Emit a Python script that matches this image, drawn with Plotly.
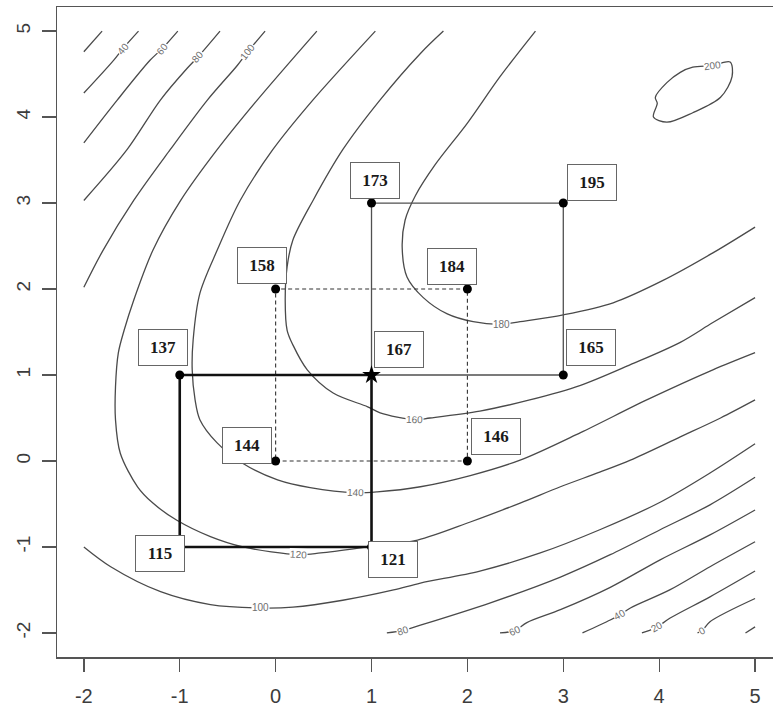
import plotly.graph_objects as go

# ---------------- data ----------------
# experimental runs (x1, x2) and observed responses
run_x = [-1, 1, -1, 1, 0, 2, 0, 2, 1, 3, 3]
run_y = [-1, -1, 1, 1, 0, 0, 2, 2, 3, 3, 1]
run_resp = [115, 121, 137, 167, 144, 146, 158, 184, 173, 195, 165]

# the three 2^2 designs, as indices into the runs (closed squares)
design_first = [0, 1, 3, 2, 0]
design_second = [4, 5, 7, 6, 4]
design_third = [3, 10, 9, 8, 3]
center_run = 3

# axis ticks
tick_vals = [-2, -1, 0, 1, 2, 3, 4, 5]
tick_text = ["-2", "-1", "0", "1", "2", "3", "4", "5"]

# traced contour lines of the fitted response surface
c20a_x = [-2.0, -1.81]
c20a_y = [4.76, 5.0]
c40a_x = [-2.0, -1.69, -1.59, -1.43]
c40a_y = [4.28, 4.66, 4.80, 5.0]
c60a_x = [-2.0, -1.65, -1.31, -1.18, -1.02]
c60a_y = [3.70, 4.20, 4.66, 4.80, 5.0]
c80a_x = [-2.0, -1.55, -1.20, -0.92, -0.81, -0.58]
c80a_y = [3.03, 3.62, 4.20, 4.57, 4.70, 5.0]
c100a_x = [-2.0, -1.80, -1.48, -1.10, -0.71, -0.40, -0.29, -0.11]
c100a_y = [2.02, 2.45, 3.03, 3.62, 4.20, 4.60, 4.76, 5.0]

c120_x = [0.43, -0.19, -0.61, -0.99, -1.28, -1.48, -1.58, -1.64, -1.67, -1.67, -1.62, -1.44,
          -1.28, -1.03, -0.68, -0.34, 0.24, 0.47, 0.96, 1.48, 2.03, 2.55, 2.97, 3.38, 3.70,
          4.22, 4.64, 5.0]
c120_y = [5.0, 4.20, 3.62, 3.03, 2.45, 1.87, 1.52, 1.26, 0.86, 0.48, 0.09, -0.30,
          -0.49, -0.69, -0.88, -1.0, -1.09, -1.07, -1.0, -0.92, -0.71, -0.49, -0.30, -0.13, 0.01,
          0.28, 0.50, 0.71]

c140_x = [1.04, 0.39, -0.03, -0.37, -0.61, -0.79, -0.86, -0.87, -0.84, -0.79, -0.61, -0.34,
          0.02, 0.36, 0.83, 1.06, 1.51, 2.03, 2.55, 3.18, 3.87, 4.56, 5.0]
c140_y = [5.0, 4.20, 3.62, 3.03, 2.45, 1.95, 1.41, 1.06, 0.71, 0.48, 0.21, -0.03,
          -0.22, -0.31, -0.37, -0.36, -0.30, -0.17, 0.01, 0.33, 0.71, 1.06, 1.26]

c160_x = [1.75, 1.51, 1.09, 0.70, 0.39, 0.18, 0.12, 0.10, 0.12, 0.18, 0.33, 0.60, 0.96,
          1.09, 1.45, 1.61, 2.13, 2.65, 3.18, 3.70, 4.22, 4.56, 5.0]
c160_y = [5.0, 4.74, 4.20, 3.62, 3.03, 2.57, 2.26, 1.87, 1.52, 1.35, 1.06, 0.79, 0.63,
          0.56, 0.48, 0.50, 0.58, 0.71, 0.88, 1.12, 1.38, 1.61, 1.90]

c180_x = [2.71, 2.34, 2.0, 1.66, 1.46, 1.35, 1.32, 1.37, 1.54, 1.79, 2.06, 2.36, 2.55,
          3.0, 3.52, 4.04, 4.56, 5.0]
c180_y = [5.0, 4.47, 3.93, 3.44, 3.09, 2.80, 2.48, 2.14, 1.90, 1.71, 1.62, 1.59, 1.62,
          1.70, 1.84, 2.10, 2.42, 2.72]

c200_x = [4.35, 4.56, 4.74, 4.76, 4.64, 4.35, 4.08, 3.94, 3.98, 3.96, 4.08, 4.22, 4.35]
c200_y = [4.58, 4.60, 4.64, 4.47, 4.23, 4.05, 3.94, 4.0, 4.16, 4.23, 4.40, 4.52, 4.58]

c100b_x = [-2.0, -1.72, -1.20, -0.68, -0.16, 0.18, 0.70, 1.23, 1.51, 2.13, 2.76, 3.38,
           4.01, 4.53, 5.0]
c100b_y = [-1.0, -1.23, -1.52, -1.67, -1.71, -1.70, -1.62, -1.50, -1.42, -1.28, -1.07, -0.80,
           -0.48, -0.14, 0.20]
c80b_x = [1.16, 1.33, 1.51, 2.24, 2.97, 3.49, 4.01, 4.53, 5.0]
c80b_y = [-2.0, -1.97, -1.91, -1.65, -1.35, -1.09, -0.80, -0.51, -0.19]
c60b_x = [2.34, 2.50, 2.62, 2.97, 3.49, 4.01, 4.53, 5.0]
c60b_y = [-2.0, -1.97, -1.88, -1.73, -1.47, -1.15, -0.86, -0.57]
c40b_x = [3.20, 3.49, 3.59, 3.70, 4.11, 4.53, 5.0]
c40b_y = [-2.0, -1.85, -1.79, -1.71, -1.50, -1.23, -0.94]
c20b_x = [3.82, 3.90, 3.98, 4.11, 4.53, 5.0]
c20b_y = [-2.0, -1.97, -1.93, -1.83, -1.58, -1.28]
c0_x = [4.40, 4.45, 4.53, 5.0]
c0_y = [-2.0, -1.97, -1.87, -1.60]
cm20_x = [4.90, 5.0]
cm20_y = [-2.0, -1.93]

# ---------------- styling tables ----------------
# (level label, x list, y list, index of label point or None, label angle)
contour_table = [
    ("20", c20a_x, c20a_y, None, 0),
    ("40", c40a_x, c40a_y, 2, -50),
    ("60", c60a_x, c60a_y, 3, -50),
    ("80", c80a_x, c80a_y, 4, -48),
    ("100", c100a_x, c100a_y, 6, -52),
    ("120", c120_x, c120_y, 16, 3),
    ("140", c140_x, c140_y, 14, 2),
    ("160", c160_x, c160_y, 14, 2),
    ("180", c180_x, c180_y, 11, 0),
    ("200", c200_x, c200_y, 1, -8),
    ("100", c100b_x, c100b_y, 4, 0),
    ("80", c80b_x, c80b_y, 1, -18),
    ("60", c60b_x, c60b_y, 1, -24),
    ("40", c40b_x, c40b_y, 2, -30),
    ("20", c20b_x, c20b_y, 2, -30),
    ("0", c0_x, c0_y, 1, -30),
    ("-20", cm20_x, cm20_y, None, 0),
]

# pixel offsets of each response box relative to its run point
box_dx = [-20, 21, -17, 27, -29, 29, -14, -15, 3, 29, 28]
box_dy = [-7, -13, 27, 25, 15, 24, 24, 23, 23, 21, 27]

LINE_GREY = "#4a4a4a"

fig = go.Figure()

annotations = []
for lab, xs, ys, li, ang in contour_table:
    fig.add_trace(go.Scatter(
        x=xs, y=ys, mode="lines",
        line=dict(color=LINE_GREY, width=1.3, shape="spline", smoothing=0.9),
        hoverinfo="skip", showlegend=False))
    if li is not None:
        annotations.append(dict(
            x=xs[li], y=ys[li], xref="x", yref="y", text=lab, showarrow=False,
            textangle=ang, bgcolor="white", borderpad=0,
            font=dict(family="Liberation Sans, Arial, sans-serif", size=10, color="#6e6e6e")))


def path(idx):
    return [run_x[i] for i in idx], [run_y[i] for i in idx]


x1, y1 = path(design_first)
x2, y2 = path(design_second)
x3, y3 = path(design_third)

fig.add_trace(go.Scatter(x=x3, y=y3, mode="lines",
                         line=dict(color="#505050", width=1.3),
                         hoverinfo="skip", showlegend=False))
fig.add_trace(go.Scatter(x=x2, y=y2, mode="lines",
                         line=dict(color="#333333", width=1.1, dash="4px,3px"),
                         hoverinfo="skip", showlegend=False))
fig.add_trace(go.Scatter(x=x1, y=y1, mode="lines",
                         line=dict(color="#111111", width=2.6),
                         hoverinfo="skip", showlegend=False))

pt_x = [run_x[i] for i in range(len(run_x)) if i != center_run]
pt_y = [run_y[i] for i in range(len(run_y)) if i != center_run]
fig.add_trace(go.Scatter(x=pt_x, y=pt_y, mode="markers",
                         marker=dict(symbol="circle", size=9, color="#000000"),
                         hoverinfo="skip", showlegend=False))
fig.add_trace(go.Scatter(x=[run_x[center_run]], y=[run_y[center_run]], mode="markers",
                         marker=dict(symbol="star", size=14, color="#000000"),
                         hoverinfo="skip", showlegend=False))

for xv, yv, val, dx, dy in zip(run_x, run_y, run_resp, box_dx, box_dy):
    annotations.append(dict(
        x=xv, y=yv, xref="x", yref="y", text=f"<b>{val}</b>", showarrow=False,
        xshift=dx, yshift=dy, width=44, height=31, borderpad=2, borderwidth=1,
        bordercolor="#666666", bgcolor="white",
        font=dict(family="Liberation Serif, Times New Roman, serif", size=17, color="#1a1a1a")))

fig.update_layout(
    width=773, height=707,
    margin=dict(l=57, r=0, t=7, b=50, autoexpand=False),
    paper_bgcolor="white", plot_bgcolor="white",
    annotations=annotations,
    xaxis=dict(range=[-2.28, 5.187], tickvals=tick_vals, ticktext=tick_text,
               automargin=False,
               showgrid=False, zeroline=False, showline=True, mirror=True,
               linecolor="#555555", linewidth=1.5, ticks="outside", ticklen=13,
               tickcolor="#555555", tickwidth=1.3, ticklabelstandoff=7,
               tickfont=dict(family="Liberation Sans, Arial, sans-serif", size=20, color="#3c3c3c")),
    yaxis=dict(range=[-2.28, 5.28], tickvals=tick_vals, ticktext=tick_text,
               automargin=False,
               showgrid=False, zeroline=False, showline=True, mirror=False,
               linecolor="#555555", linewidth=1.5, ticks="outside", ticklen=14,
               tickcolor="#555555", tickwidth=1.3, tickangle=-90, ticklabelstandoff=4,
               tickfont=dict(family="Liberation Sans, Arial, sans-serif", size=19, color="#3c3c3c")),
)

fig.write_html("out.html",
               config={"displayModeBar": False, "staticPlot": True},
               post_script="document.body.style.margin='0px';document.body.style.overflow='hidden';")
